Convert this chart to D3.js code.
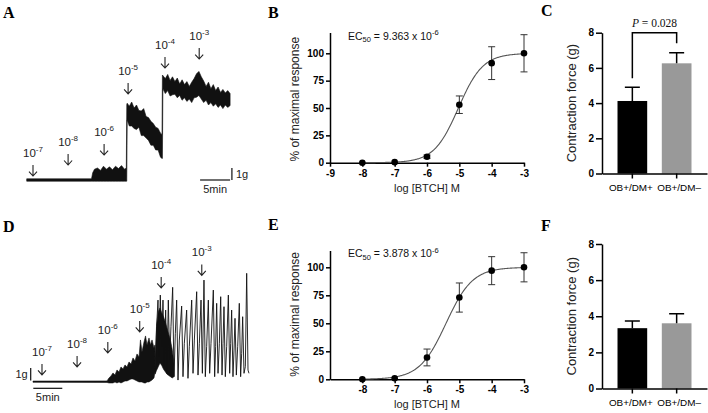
<!DOCTYPE html>
<html><head><meta charset="utf-8">
<script src="https://cdn.jsdelivr.net/npm/d3@7"></script>
<style>
body{margin:0;background:#fff}
svg{display:block}
</style></head><body>
<svg id="c" width="708" height="413"></svg>
<script>
// ---------------- DATA ----------------
// Panel A trace (time in min, force in g): envelope of the recording
const aT  = [0,10.8,11.0,11.3,11.8,12.3,12.8,13.3,13.8,14.3,14.8,15.3,15.8,16.3,16.6,16.68,16.75,17.1,17.5,17.9,18.3,18.7,19.1,19.5,19.9,20.3,20.7,21.1,21.5,21.9,22.3,22.55,22.62,22.7,23.1,23.5,23.9,24.3,24.7,25.1,25.5,25.9,26.3,26.7,27.1,27.5,27.9,28.3,28.7,29.1,29.5,29.9,30.3,30.7,31.1,31.5,31.9,32.3,32.7,33.1,33.5,33.9];
const aHi = [0.1,0.1,0.6,0.9,1.0,0.8,1.15,0.9,1.1,0.85,1.15,0.95,1.2,0.9,1.0,6.3,6.4,6.15,6.5,6.0,6.25,5.8,5.75,5.95,5.3,5.2,4.9,4.7,4.4,4.3,3.9,3.8,8.75,8.7,8.45,8.8,8.3,8.6,8.2,8.5,8.0,8.35,7.95,8.2,7.8,8.15,8.45,8.85,9.05,8.6,8.25,7.8,8.15,7.6,7.95,7.45,7.75,7.3,7.55,7.25,7.45,7.2];
const aLo = [-0.1,-0.1,-0.1,-0.1,-0.1,-0.1,-0.1,-0.1,-0.1,-0.1,-0.1,-0.1,-0.1,-0.1,-0.1,-0.1,5.0,4.5,4.5,4.3,4.2,4.4,3.7,3.7,3.5,3.3,2.9,2.9,2.5,2.5,1.9,1.8,1.8,7.6,7.2,7.45,7.0,7.1,7.15,6.85,7.05,6.65,6.85,6.55,6.75,6.45,6.85,6.9,7.05,6.75,6.45,6.65,6.25,6.45,6.15,6.35,6.05,6.25,5.95,6.25,6.05,6.2];
const aArrowT = [1.05,6.9,12.9,16.9,23.05,28.75];
const aArrowG = [0.33,1.25,2.08,7.17,9.33,10.08];
const doseExp = ["-7","-8","-6","-5","-4","-3"];

// Panel D trace: baseline + oscillation band, dense burst, then spikes
const dT  = [0,12.76,13.10,13.45,13.79,14.14,14.48,14.83,15.17,15.52,15.86,16.21,16.55,16.90,17.24,17.59,17.93,18.28,18.53,18.79,19.14,19.40,19.66,20.0,20.26,20.52,20.86,21.03];
const dHi = [0.05,0.06,0.3,0.46,0.7,0.54,0.94,0.78,1.18,1.02,1.34,1.18,1.58,1.42,1.9,1.66,2.22,1.98,3.34,2.38,3.18,3.66,2.94,3.5,2.94,3.34,2.7,2.94];
const dLo = [-0.05,-0.06,-0.1,-0.1,-0.1,-0.02,-0.1,-0.02,-0.1,-0.02,0.06,0.06,0.14,0.22,0.22,0.14,0.06,-0.02,-0.02,-0.02,-0.1,-0.1,-0.02,-0.02,0.06,0.14,0.3,0.78];
const ddT  = [21.03,21.3,21.6,21.9,22.2,22.5,22.8,23.1,23.4,23.7,24.0,24.3];
const ddHi = [1.0,4.5,5.6,5.9,5.5,5.2,4.8,4.3,3.8,3.3,2.6,1.5];
const ddLo = [0.6,0.9,1.2,1.5,1.3,1.0,0.8,0.6,0.5,0.4,0.3,0.4];
const dsT = [21.03,21.32,21.55,21.72,21.95,22.18,22.41,22.64,22.87,23.10,23.33,23.56,23.79,24.08,24.31,24.54,24.77,25.0,25.23,25.63,25.86,26.09,26.49,26.72,26.95,27.36,27.59,27.82,28.22,28.45,28.68,28.97,29.20,29.48,29.71,29.94,30.23,30.46,30.69,31.09,31.32,31.49,31.67,31.90,32.13,32.36,32.59,32.76,32.93,33.16,33.39,33.68,33.91,34.08,34.25,34.48,34.66,34.83,35.06,35.29,35.57,35.80,35.98,36.15,36.38,36.61,36.84,37.07,37.24];
const dsG = [0.67,4.4,6.53,2.0,6.93,2.8,6.53,1.2,5.73,0.67,6.53,1.73,4.4,7.55,0.4,3.87,6.53,0.13,3.33,6.05,0.4,3.07,5.73,0.27,2.8,6.53,0.67,3.33,7.2,0.53,3.07,6.53,0.67,8.13,0.4,2.8,6.53,0.67,3.07,7.33,0.4,2.8,6.27,0.67,3.07,6.8,0.53,3.07,6.0,0.4,2.8,6.93,0.67,3.07,5.73,0.4,2.53,5.07,0.53,2.8,6.27,0.4,2.27,5.2,0.67,1.2,8.67,0.93,0.67];
const dArrowT = [1.55,7.6,12.9,18.4,22.1,29.1];
const dArrowG = [0.54,1.18,2.3,3.98,7.5,8.5];

// Panels B / E: concentration-response
const logDose = [-8,-7,-6,-5,-4,-3];
const bMean = [0,0.5,5.5,53,91,100];
const bErr  = [0,0,1.5,8,15,17];
const eMean = [0,1,19.5,73,97,100];
const eErr  = [0,0,7.5,13,12.5,13];
const bEC50 = 9.363e-6, bHill = 1.15;
const eEC50 = 3.878e-6, eHill = 1.06;
const bTicksX = [-9,-8,-7,-6,-5,-4,-3];
const eTicksX = [-8,-7,-6,-5,-4,-3];
const pctTicks = [0,25,50,75,100];

// Panels C / F: bar charts
const groups = ["OB+/DM+","OB+/DM–"];
const barColors = ["#000000","#999999"];
const cMean = [4.12,6.26], cErr = [0.78,0.6];
const fMean = [3.34,3.61], fErr = [0.4,0.53];
const forceTicks = [0,2,4,6,8];
const pText = "0.028";

// ---------------- DRAWING ----------------
const SANS = '"Liberation Sans", Arial, Helvetica, sans-serif';
const SERIF = '"Liberation Serif", "Times New Roman", serif';
const svg = d3.select("#c");

function letter(t,x,y){
  svg.append("text").attr("x",x).attr("y",y).attr("font-family",SERIF)
    .attr("font-weight","bold").attr("font-size",16).text(t);
}
letter("A",3,18); letter("B",268,18); letter("C",541,16);
letter("D",3,232); letter("E",268,230); letter("F",541,231);

function trace(cfg){
  const g = svg.append("g");
  const x = d3.scaleLinear().domain([0,10]).range([cfg.x0, cfg.x0 + 10*cfg.pxPerMin]);
  const y = d3.scaleLinear().domain([0,10]).range([cfg.y0, cfg.y0 - 10*cfg.pxPerG]);
  const band = (T,H,L)=>{
    const idx = d3.range(T.length);
    g.append("path")
      .attr("d", d3.area().x(i=>x(T[i])).y0(i=>y(L[i])).y1(i=>y(H[i]))(idx))
      .attr("fill","#111").attr("stroke","#111").attr("stroke-width",0.6).attr("stroke-linejoin","round");
  };
  band(cfg.bT,cfg.bHi,cfg.bLo);
  if (cfg.dT) band(cfg.dT,cfg.dHi,cfg.dLo);
  if (cfg.sT){
    const si = d3.range(cfg.sT.length);
    g.append("path")
      .attr("d", d3.line().x(i=>x(cfg.sT[i])).y(i=>y(cfg.sG[i]))(si))
      .attr("fill","none").attr("stroke","#111").attr("stroke-width",0.9);
  }
  // arrows + dose labels
  cfg.arT.forEach((t,i)=>{
    const ax = x(t), ay = y(cfg.arG[i]);
    g.append("path").attr("d",`M${ax},${ay-11}L${ax},${ay}M${ax-4},${ay-4.5}L${ax},${ay}L${ax+4},${ay-4.5}`)
      .attr("fill","none").attr("stroke","#222").attr("stroke-width",1.1);
    const tx = g.append("text").attr("x",ax).attr("y",ay-19).attr("text-anchor","middle")
      .attr("font-family",SANS).attr("font-size",11.5).attr("fill","#222");
    tx.append("tspan").text("10");
    tx.append("tspan").attr("dy",-5).attr("font-size",8).text(doseExp[i]);
  });
  // scale bars
  const sb = cfg.scale;
  g.append("line").attr("x1",x(sb.hT)).attr("x2",x(sb.hT+5)).attr("y1",y(sb.hG)).attr("y2",y(sb.hG))
    .attr("stroke","#222").attr("stroke-width",1.3);
  g.append("line").attr("x1",x(sb.vT)).attr("x2",x(sb.vT)).attr("y1",y(sb.vG)).attr("y2",y(sb.vG+1))
    .attr("stroke","#222").attr("stroke-width",1.3);
  g.append("text").attr("x",x(sb.hT+2.5)).attr("y",y(sb.hG)+13).attr("text-anchor","middle")
    .attr("font-family",SANS).attr("font-size",11).attr("fill","#222").text("5min");
  g.append("text").attr("x",x(sb.vT)+sb.gDx).attr("y",y(sb.vG+0.5)+4).attr("text-anchor",sb.gAnchor)
    .attr("font-family",SANS).attr("font-size",11).attr("fill","#222").text("1g");
}

trace({x0:26.7,pxPerMin:6,y0:180,pxPerG:12,bT:aT,bHi:aHi,bLo:aLo,arT:aArrowT,arG:aArrowG,
  scale:{hT:28.9,hG:0,vT:34.2,vG:0,gDx:4,gAnchor:"start"}});
trace({x0:33,pxPerMin:5.8,y0:381.7,pxPerG:12.5,bT:dT,bHi:dHi,bLo:dLo,dT:ddT,dHi:ddHi,dLo:ddLo,sT:dsT,sG:dsG,arT:dArrowT,arG:dArrowG,
  scale:{hT:0.05,hG:-0.53,vT:-0.4,vG:0.1,gDx:-3,gAnchor:"end"}});

function styleAxis(sel, bold, fs){
  sel.selectAll("path,line").attr("stroke","#000").attr("stroke-width",1.5);
  sel.selectAll("text").attr("font-family",SANS).attr("font-size",fs||10)
    .attr("font-weight",bold?"bold":"normal").attr("fill","#000");
}

function doseResp(cfg){
  const g = svg.append("g");
  const x = d3.scaleLinear().domain([-9,-3]).range([330,524]);
  const y = d3.scaleLinear().domain([0,cfg.yMax]).range([cfg.y0, cfg.y0 - cfg.yMax*cfg.pxPerPct]);
  const ya = g.append("g").attr("transform","translate(330,0)")
    .call(d3.axisLeft(y).tickValues(pctTicks).tickSize(4).tickSizeOuter(0).tickPadding(2));
  styleAxis(ya,true);
  const xa = g.append("g").attr("transform",`translate(0,${cfg.y0})`)
    .call(d3.axisBottom(x).tickValues(cfg.ticksX).tickSize(4).tickSizeOuter(0).tickPadding(3).tickFormat(d=>String(d)));
  styleAxis(xa,true);
  // fitted curve
  const lec = Math.log10(cfg.ec50);
  const xs = d3.range(-8, -2.999, 0.02);
  g.append("path").attr("d", d3.line().x(v=>x(v)).y(v=>y(100/(1+Math.pow(10,(lec-v)*cfg.hill))))(xs))
    .attr("fill","none").attr("stroke","#555").attr("stroke-width",1.1);
  // error bars
  logDose.forEach((d,i)=>{
    if (cfg.err[i] <= 0) return;
    const cx = x(d), t = y(cfg.mean[i]+cfg.err[i]), b = y(cfg.mean[i]-cfg.err[i]);
    g.append("path").attr("d",`M${cx},${t}V${b}M${cx-3.5},${t}H${cx+3.5}M${cx-3.5},${b}H${cx+3.5}`)
      .attr("stroke","#333").attr("stroke-width",1).attr("fill","none");
  });
  g.selectAll("circle.pt").data(logDose).join("circle")
    .attr("cx",d=>x(d)).attr("cy",(d,i)=>y(cfg.mean[i])).attr("r",3.3).attr("fill","#000");
  // EC50
  const t = g.append("text").attr("x",348).attr("y",cfg.y0 - cfg.ecOff).attr("font-family",SANS)
    .attr("font-size",10.5).attr("fill","#111");
  t.append("tspan").text("EC");
  t.append("tspan").attr("dy",2.5).attr("font-size",7.5).text("50");
  t.append("tspan").attr("dy",-2.5).text(" = " + cfg.ecText + " x 10");
  t.append("tspan").attr("dy",-4.5).attr("font-size",7.5).text("-6");
  // labels
  g.append("text").attr("x",427).attr("y",cfg.y0+29).attr("text-anchor","middle")
    .attr("font-family",SANS).attr("font-size",11).attr("fill","#222").text("log [BTCH] M");
  g.append("text").attr("transform",`translate(299,${cfg.y0 - 58*cfg.pxPerPct}) rotate(-90)`)
    .attr("text-anchor","middle").attr("font-family",SANS).attr("font-size",12).attr("fill","#222")
    .text("% of maximal response");
}
doseResp({y0:162.7,pxPerPct:1.094,yMax:119,ticksX:bTicksX,mean:bMean,err:bErr,ec50:bEC50,hill:bHill,ecText:"9.363",ecOff:123});
doseResp({y0:379.3,pxPerPct:1.12,yMax:115,ticksX:eTicksX,mean:eMean,err:eErr,ec50:eEC50,hill:eHill,ecText:"3.878",ecOff:122});

function bars(cfg){
  const g = svg.append("g");
  const x = d3.scaleBand().domain(groups).range([602,707]).paddingInner(0.33).paddingOuter(0.35);
  const y = d3.scaleLinear().domain([0,8]).range([cfg.y0, cfg.y8]);
  groups.forEach((k,i)=>{
    g.append("rect").attr("x",x(k)).attr("width",x.bandwidth()).attr("y",y(cfg.mean[i]))
      .attr("height",y(0)-y(cfg.mean[i])).attr("fill",barColors[i]);
    const cx = x(k)+x.bandwidth()/2, top = y(cfg.mean[i]+cfg.err[i]);
    g.append("path").attr("d",`M${cx},${y(cfg.mean[i])}V${top}M${cx-7.5},${top}H${cx+7.5}`)
      .attr("stroke","#000").attr("stroke-width",1.5).attr("fill","none");
  });
  const ya = g.append("g").attr("transform","translate(602,0)")
    .call(d3.axisLeft(y).tickValues(forceTicks).tickSize(6).tickSizeOuter(0).tickPadding(2));
  styleAxis(ya,true);
  const xa = g.append("g").attr("transform",`translate(0,${cfg.y0})`)
    .call(d3.axisBottom(x).tickSize(5).tickSizeOuter(0).tickPadding(5));
  styleAxis(xa,false,9.9);
  xa.selectAll(".tick text").attr("dx",(d,i)=> i===0 ? -1.5 : 2.5);
  g.append("text").attr("transform",`translate(576,${(cfg.y0+cfg.y8)/2}) rotate(-90)`)
    .attr("text-anchor","middle").attr("font-family",SANS).attr("font-size",13).attr("fill","#222")
    .text("Contraction force (g)");
  if (cfg.p){
    const x1 = x(groups[0])+x.bandwidth()/2, x2 = x(groups[1])+x.bandwidth()/2;
    g.append("path").attr("d",`M${x1},${y(5.41)}V${y(8)}H${x2}V${y(7.4)}`)
      .attr("stroke","#000").attr("stroke-width",1.5).attr("fill","none");
    const t = g.append("text").attr("x",(x1+x2)/2).attr("y",y(8)-6).attr("text-anchor","middle")
      .attr("font-family",SERIF).attr("font-size",11.5).attr("fill","#111");
    t.append("tspan").attr("font-style","italic").text("P");
    t.append("tspan").text(" = " + cfg.p);
  }
}
bars({y0:173.5,y8:32.7,mean:cMean,err:cErr,p:pText});
bars({y0:388.5,y8:244,mean:fMean,err:fErr});
</script>
</body></html>
